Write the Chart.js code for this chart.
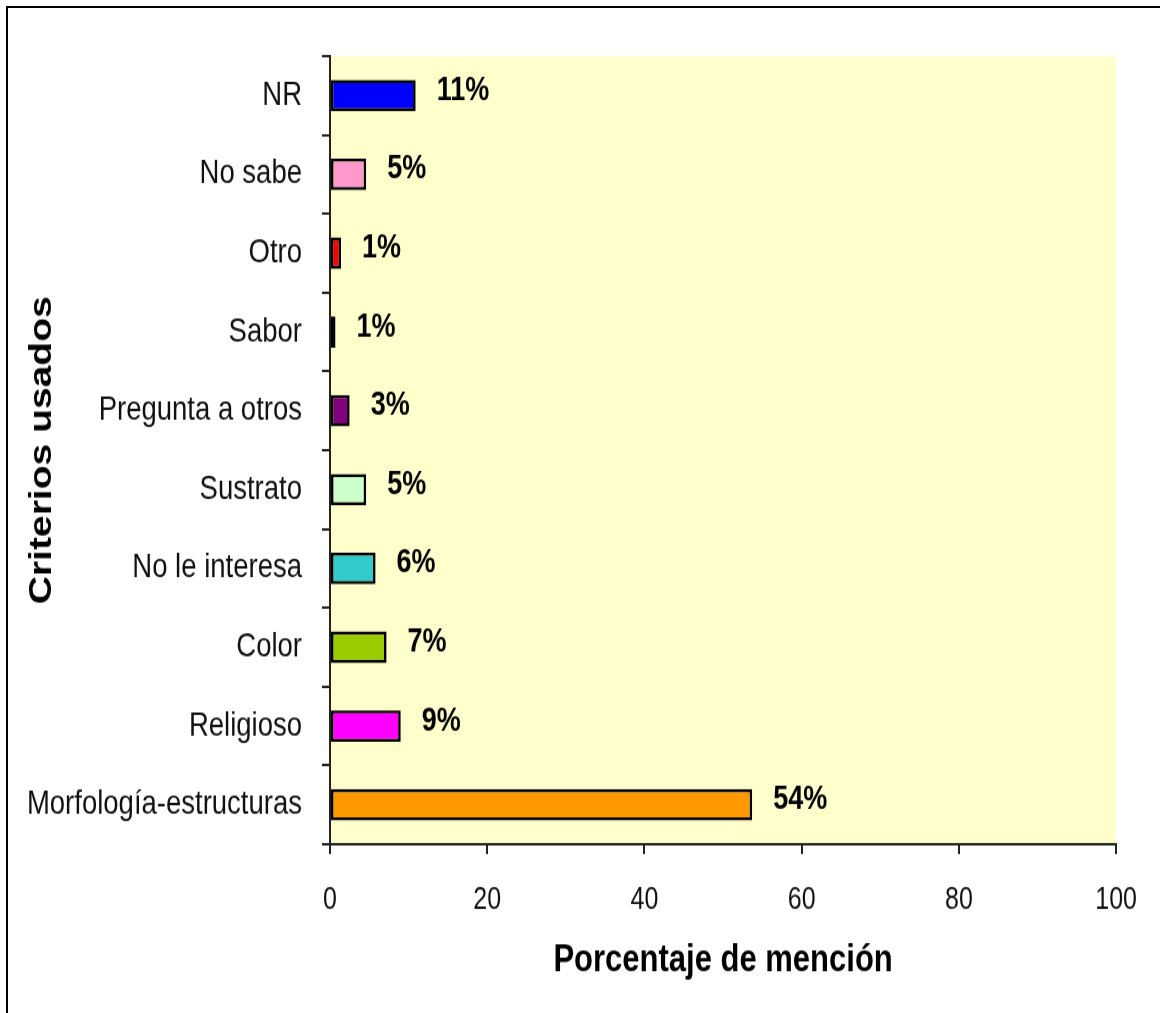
<!DOCTYPE html>
<html>
<head>
<meta charset="utf-8">
<script src="https://cdn.jsdelivr.net/npm/chart.js@4/dist/chart.umd.min.js"></script>
<style>
    html, body { margin: 0; padding: 0; background: #fff; overflow: hidden; }
    #frame {
        position: absolute; left: 6px; top: 6px; width: 1200px; height: 1100px;
        border-left: 2px solid #000; border-top: 2px solid #000;
    }
    /* the original picture is stretched vertically, so the chart is drawn
       on a shorter canvas and scaled up in height */
    #wrap {
        position: absolute; left: 0; top: 0; width: 1160px; height: 830px;
        transform: scaleY(1.22); transform-origin: 0 0;
    }
</style>
</head>
<body>
<div id="frame"></div>
<div id="wrap"><canvas id="criteriosChart"></canvas></div>
<script>
// Data (top to bottom)
const categories = [
    "NR", "No sabe", "Otro", "Sabor", "Pregunta a otros",
    "Sustrato", "No le interesa", "Color", "Religioso", "Morfología-estructuras"
];
const percentages = [10.9, 4.6, 1.4, 0.7, 2.5, 4.6, 5.8, 7.2, 9.0, 53.7];
const percentLabels = ["11%", "5%", "1%", "1%", "3%", "5%", "6%", "7%", "9%", "54%"];
const barColors = [
    "#0000FF", "#FF99CC", "#FF0000", "#CC6600", "#800080",
    "#CCFFCC", "#33CCCC", "#99CC00", "#FF00FF", "#FF9900"
];
const xTicks = [0, 20, 40, 60, 80, 100];

const font = '"Liberation Sans", Arial, sans-serif';

// Light yellow plot background
const plotBackground = {
    id: "plotBackground",
    beforeDraw(chart) {
        const { ctx, chartArea } = chart;
        ctx.save();
        ctx.fillStyle = "#FFFFCC";
        ctx.fillRect(chartArea.left, chartArea.top, chartArea.right - chartArea.left, chartArea.bottom - chartArea.top);
        ctx.restore();
    }
};

// Percent labels to the right of each bar
const barLabels = {
    id: "barLabels",
    afterDatasetsDraw(chart) {
        const { ctx } = chart;
        const meta = chart.getDatasetMeta(0);
        ctx.save();
        ctx.font = "bold 27px " + font;
        ctx.fillStyle = "#000";
        ctx.textAlign = "left";
        ctx.textBaseline = "middle";
        meta.data.forEach((bar, i) => {
            ctx.fillText(percentLabels[i], bar.x + 21, bar.y - 4);
        });
        ctx.restore();
    }
};

const ctx = document.getElementById("criteriosChart").getContext("2d");

new Chart(ctx, {
    type: "bar",
    data: {
        labels: categories,
        datasets: [{
            data: percentages,
            backgroundColor: barColors,
            borderColor: "#000",
            borderWidth: 2.6,
            borderSkipped: false,
            barPercentage: 0.4,
            categoryPercentage: 1
        }]
    },
    options: {
        indexAxis: "y",
        responsive: true,
        maintainAspectRatio: false,
        animation: false,
        layout: { padding: { top: 46, right: 27, left: 0, bottom: 0 } },
        plugins: {
            legend: { display: false },
            tooltip: { enabled: false }
        },
        scales: {
            x: {
                min: 0,
                max: 100,
                afterBuildTicks(scale) {
                    scale.ticks = xTicks.map(v => ({ value: v }));
                },
                afterFit(scale) { scale.height = 138; },
                border: { display: true, color: "#222", width: 2 },
                grid: { drawOnChartArea: false, drawTicks: true, tickLength: 8, color: "#222", lineWidth: 2 },
                ticks: { color: "#111", padding: 23, font: { family: font, size: 25 } },
                title: {
                    display: true,
                    text: "Porcentaje de mención",
                    color: "#000",
                    font: { family: font, size: 31, weight: "bold" },
                    padding: { top: 0, bottom: 24 }
                }
            },
            y: {
                afterFit(scale) { scale.width = 330; },
                border: { display: true, color: "#222", width: 2 },
                grid: { drawOnChartArea: false, drawTicks: true, tickLength: 8, color: "#222", lineWidth: 2, offset: true },
                ticks: { color: "#111", padding: 20, font: { family: font, size: 27.5 } },
                title: {
                    display: true,
                    text: "Criterios usados",
                    color: "#000",
                    font: { family: font, size: 32, weight: "bold" },
                    padding: { top: 23, bottom: 0 }
                }
            }
        }
    },
    plugins: [plotBackground, barLabels]
});
</script>
</body>
</html>
